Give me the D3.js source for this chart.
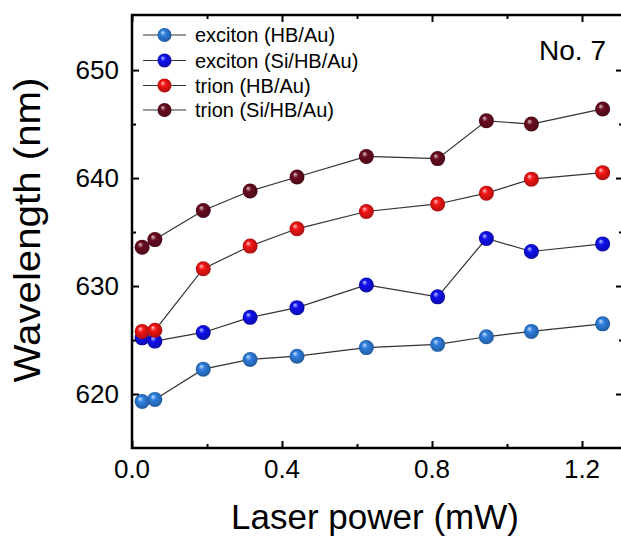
<!DOCTYPE html>
<html>
<head>
<meta charset="utf-8">
<script src="https://cdn.jsdelivr.net/npm/d3@7"></script>
<style>
  body { margin: 0; background: #fff; }
  svg { display: block; font-family: Arial, "Liberation Sans", sans-serif; }
</style>
</head>
<body>
<div id="chart"></div>
<script>
// laser power (mW) for each measurement
const power = [0.027, 0.061, 0.19, 0.315, 0.44, 0.625, 0.815, 0.945, 1.065, 1.255];

// peak wavelengths (nm)
const excitonHB   = [619.3, 619.5, 622.3, 623.2, 623.5, 624.3, 624.6, 625.3, 625.8, 626.5];
const excitonSiHB = [625.2, 624.9, 625.7, 627.1, 628.0, 630.1, 629.0, 634.4, 633.2, 633.9];
const trionHB     = [625.8, 625.9, 631.6, 633.7, 635.3, 636.9, 637.6, 638.6, 639.9, 640.5];
const trionSiHB   = [633.6, 634.3, 637.0, 638.8, 640.1, 642.0, 641.8, 645.3, 645.0, 646.4];

const seriesNames = ["exciton (HB/Au)", "exciton (Si/HB/Au)", "trion (HB/Au)", "trion (Si/HB/Au)"];
const seriesColors = ["#2f7fe0", "#1010f0", "#f51515", "#6a0c22"];
const seriesValues = [excitonHB, excitonSiHB, trionHB, trionSiHB];

const xTicks = [0.0, 0.4, 0.8, 1.2];
const yTicks = [620, 630, 640, 650];

const width = 621;
const height = 540;
const pLeft = 132, pRight = 623, pTop = 15, pBottom = 448;

const svg = d3.select("#chart")
  .append("svg")
  .attr("width", width)
  .attr("height", height);

const x = d3.scaleLinear().domain([0, 1.3093]).range([pLeft, pRight]);
const y = d3.scaleLinear().domain([615, 655.1]).range([pBottom, pTop]);

// glossy ball gradients
const defs = svg.append("defs");
seriesColors.forEach((c, i) => {
  const g = defs.append("radialGradient")
    .attr("id", "ball" + i)
    .attr("cx", "50%").attr("cy", "50%").attr("r", "55%")
    .attr("fx", "35%").attr("fy", "30%");
  g.append("stop").attr("offset", "0%").attr("stop-color", d3.interpolateRgb(c, "#ffffff")(0.75));
  g.append("stop").attr("offset", "35%").attr("stop-color", c);
  g.append("stop").attr("offset", "100%").attr("stop-color", d3.color(c).darker(1.1));
});

const data = seriesValues.map((vals, i) => ({
  name: seriesNames[i],
  idx: i,
  points: vals.map((v, j) => ({ p: power[j], w: v }))
}));

const line = d3.line()
  .x(d => x(d.p))
  .y(d => y(d.w));

// connecting lines
svg.selectAll(".series-line")
  .data(data)
  .join("path")
  .attr("fill", "none")
  .attr("stroke", "#333")
  .attr("stroke-width", 1.2)
  .attr("d", d => line(d.points));

// markers
data.forEach(s => {
  svg.selectAll(".m" + s.idx)
    .data(s.points)
    .join("circle")
    .attr("cx", d => x(d.p))
    .attr("cy", d => y(d.w))
    .attr("r", 7.5)
    .attr("fill", `url(#ball${s.idx})`);
});

// axes frame with inward ticks
const tickStyle = g => {
  g.select(".domain").remove();
  g.selectAll("line").attr("stroke", "#000").attr("stroke-width", 2);
};

svg.append("g")
  .attr("transform", `translate(0,${pBottom})`)
  .call(d3.axisTop(x).tickValues(xTicks).tickSize(7).tickFormat(""))
  .call(tickStyle);
svg.append("g")
  .attr("transform", `translate(0,${pBottom})`)
  .call(d3.axisTop(x).tickValues([0.2, 0.6, 1.0]).tickSize(4).tickFormat(""))
  .call(tickStyle);
svg.append("g")
  .attr("transform", `translate(0,${pTop})`)
  .call(d3.axisBottom(x).tickValues(xTicks).tickSize(7).tickFormat(""))
  .call(tickStyle);
svg.append("g")
  .attr("transform", `translate(0,${pTop})`)
  .call(d3.axisBottom(x).tickValues([0.2, 0.6, 1.0]).tickSize(4).tickFormat(""))
  .call(tickStyle);
svg.append("g")
  .attr("transform", `translate(${pLeft},0)`)
  .call(d3.axisRight(y).tickValues(yTicks).tickSize(7).tickFormat(""))
  .call(tickStyle);
svg.append("g")
  .attr("transform", `translate(${pLeft},0)`)
  .call(d3.axisRight(y).tickValues([625, 635, 645]).tickSize(4).tickFormat(""))
  .call(tickStyle);
svg.append("g")
  .attr("transform", `translate(${pRight},0)`)
  .call(d3.axisLeft(y).tickValues(yTicks).tickSize(7).tickFormat(""))
  .call(tickStyle);
svg.append("g")
  .attr("transform", `translate(${pRight},0)`)
  .call(d3.axisLeft(y).tickValues([625, 635, 645]).tickSize(4).tickFormat(""))
  .call(tickStyle);

svg.append("rect")
  .attr("x", pLeft).attr("y", pTop)
  .attr("width", pRight - pLeft).attr("height", pBottom - pTop)
  .attr("fill", "none")
  .attr("stroke", "#000")
  .attr("stroke-width", 2.5);

// tick labels
svg.selectAll(".xlab")
  .data(xTicks)
  .join("text")
  .attr("x", d => x(d))
  .attr("y", 478)
  .attr("text-anchor", "middle")
  .attr("font-size", 26)
  .text(d3.format(".1f"));

svg.selectAll(".ylab")
  .data(yTicks)
  .join("text")
  .attr("x", 119)
  .attr("y", d => y(d) + 9)
  .attr("text-anchor", "end")
  .attr("font-size", 26)
  .text(d => d);

// axis titles
svg.append("text")
  .attr("x", 375)
  .attr("y", 529)
  .attr("text-anchor", "middle")
  .attr("font-size", 35)
  .text("Laser power (mW)");

svg.append("text")
  .attr("transform", "translate(40,230) rotate(-90)")
  .attr("text-anchor", "middle")
  .attr("font-size", 36)
  .attr("textLength", 305)
  .attr("lengthAdjust", "spacingAndGlyphs")
  .text("Wavelength (nm)");

// legend
const legend = svg.append("g");
const legendY = [35, 60.5, 85.5, 110];
data.forEach((s, i) => {
  const ly = legendY[i];
  legend.append("line")
    .attr("x1", 143).attr("x2", 186)
    .attr("y1", ly).attr("y2", ly)
    .attr("stroke", "#333").attr("stroke-width", 1.2);
  legend.append("circle")
    .attr("cx", 164.5).attr("cy", ly).attr("r", 7)
    .attr("fill", `url(#ball${i})`);
  legend.append("text")
    .attr("x", 195).attr("y", ly + 7)
    .attr("font-size", 20)
    .text(s.name);
});

svg.append("text")
  .attr("x", 606)
  .attr("y", 60)
  .attr("text-anchor", "end")
  .attr("font-size", 28)
  .text("No. 7");
</script>
</body>
</html>
